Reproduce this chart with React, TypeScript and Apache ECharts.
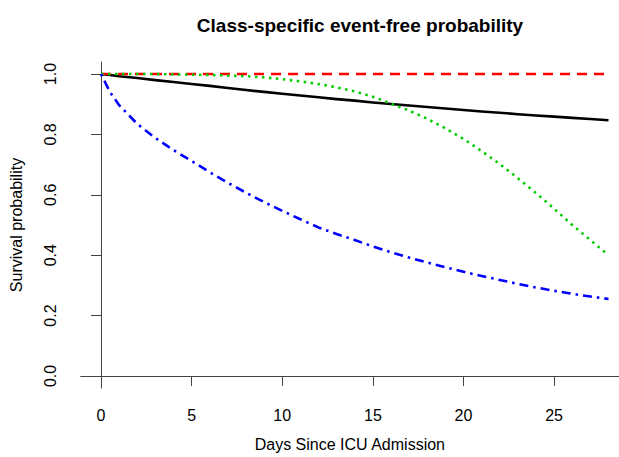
import React, { useEffect, useRef } from "react";
import * as echarts from "echarts";

const days = [0, 0.5, 1, 2, 3, 4, 5, 6, 7, 8, 9, 10, 11, 12, 13, 14, 15, 16, 17, 18, 19, 20, 21, 22, 23, 24, 25, 26, 27, 28];
const classBlack = [1.0, 0.997, 0.993, 0.987, 0.98, 0.974, 0.967, 0.961, 0.954, 0.947, 0.941, 0.935, 0.929, 0.923, 0.917, 0.912, 0.906, 0.901, 0.896, 0.891, 0.886, 0.881, 0.876, 0.872, 0.867, 0.863, 0.859, 0.855, 0.851, 0.847];
const classRed = [1, 1, 1, 1, 1, 1, 1, 1, 1, 1, 1, 1, 1, 1, 1, 1, 1, 1, 1, 1, 1, 1, 1, 1, 1, 1, 1, 1, 1, 1];
const classGreen = [1.0, 1.0, 1.0, 1.0, 1.0, 0.999, 0.998, 0.997, 0.995, 0.993, 0.989, 0.983, 0.976, 0.967, 0.956, 0.943, 0.925, 0.902, 0.879, 0.852, 0.82, 0.785, 0.745, 0.702, 0.655, 0.606, 0.554, 0.5, 0.45, 0.4];
const classBlue = [1.0, 0.94, 0.897, 0.835, 0.788, 0.748, 0.712, 0.675, 0.64, 0.607, 0.576, 0.547, 0.519, 0.492, 0.47, 0.45, 0.429, 0.41, 0.392, 0.376, 0.36, 0.345, 0.331, 0.318, 0.305, 0.293, 0.282, 0.272, 0.263, 0.255];

const xTicks = [0, 5, 10, 15, 20, 25];
const yTicks = [0, 0.2, 0.4, 0.6, 0.8, 1.0];

const FONT = "'Liberation Sans', Arial, Helvetica, sans-serif";

function pairs(vals: number[]) {
  return days.map((d, i) => [d, vals[i]]);
}

export default function App() {
  const ref = useRef<HTMLDivElement>(null);
  useEffect(() => {
    if (!ref.current) return;
    const chart = echarts.init(ref.current, null, { renderer: "svg" });
    const axisColor = "#444";
    const lineSeries = (name: string, vals: number[], color: string, dash: any) => ({
      name,
      type: "line",
      data: pairs(vals),
      showSymbol: false,
      smooth: false,
      lineStyle: { color, width: 2.6, type: dash, join: "round" },
      z: 2,
    });
    chart.setOption({
      animation: false,
      backgroundColor: "#ffffff",
      title: {
        text: "Class-specific event-free probability",
        left: 355,
        top: 11,
        textAlign: "center",
        textStyle: { fontFamily: FONT, fontWeight: "bold", fontSize: 19, color: "#000" },
      },
      grid: { left: 80.7, right: 0, top: 62, bottom: 65.3, containLabel: false },
      xAxis: {
        type: "value",
        min: -1.12,
        max: 28.58,
        name: "Days Since ICU Admission",
        nameLocation: "middle",
        nameGap: 48,
        nameTextStyle: { fontFamily: FONT, fontSize: 16, color: "#000" },
        axisLine: { show: true, lineStyle: { color: axisColor, width: 1 } },
        axisTick: { show: true, length: 10, customValues: xTicks, lineStyle: { color: axisColor } },
        axisLabel: {
          customValues: xTicks,
          margin: 19,
          fontFamily: FONT,
          fontSize: 16,
          color: "#000",
          formatter: (v: number) => String(v),
        },
        splitLine: { show: false },
      },
      yAxis: {
        type: "value",
        min: -0.04,
        max: 1.04,
        name: "Survival probability",
        nameLocation: "middle",
        nameGap: 56,
        nameTextStyle: { fontFamily: FONT, fontSize: 16, color: "#000" },
        axisLine: { show: true, lineStyle: { color: axisColor, width: 1 } },
        axisTick: { show: true, length: 10, customValues: yTicks, lineStyle: { color: axisColor } },
        axisLabel: {
          customValues: yTicks,
          rotate: 90,
          margin: 22,
          fontFamily: FONT,
          fontSize: 16,
          color: "#000",
          formatter: (v: number) => v.toFixed(1),
        },
        splitLine: { show: false },
      },
      series: [
        lineSeries("Class 1", classBlack, "#000000", "solid"),
        lineSeries("Class 2", classRed, "#ff0000", [10, 7]),
        lineSeries("Class 3", classGreen, "#00cd00", [2.5, 4.5]),
        lineSeries("Class 4", classBlue, "#0000ff", [2.5, 5, 9, 5]),
      ],
    });
    return () => chart.dispose();
  }, []);
  return (
    <div
      ref={ref}
      style={{ position: "absolute", left: 0, top: 0, width: 619, height: 457, background: "#fff" }}
    />
  );
}
